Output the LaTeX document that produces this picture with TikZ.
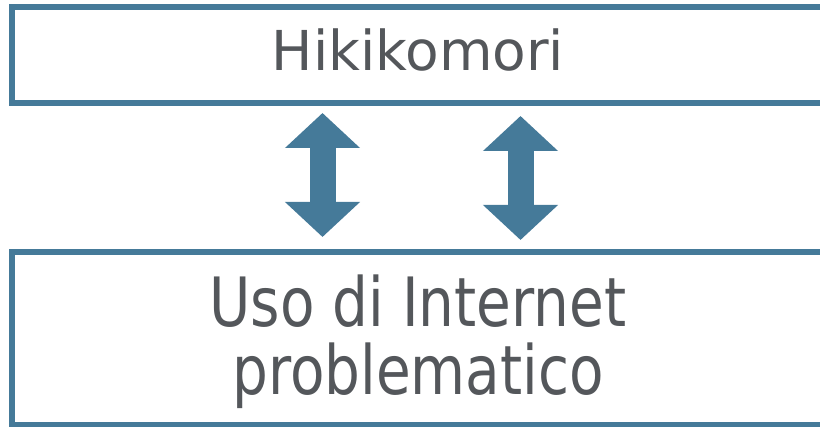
\documentclass[tikz,border=0pt]{standalone}
\usepackage{fontspec}
\setmainfont{DejaVu Sans}
\newfontfamily\narrowfont[FakeStretch=0.83]{DejaVu Sans}
\usetikzlibrary{arrows.meta}
\definecolor{boxblue}{HTML}{457A99}
\definecolor{txtgray}{HTML}{54575B}
\tikzset{
  box/.style={draw=boxblue,line width=6pt,minimum width=812pt,inner sep=0pt},
  lbl/.style={anchor=base,text=txtgray,inner sep=0pt},
  dbl/.style={boxblue,line width=26pt,{Triangle[width=73pt,length=35pt]}-{Triangle[width=73pt,length=35pt]}}
}

\begin{document}
\begin{tikzpicture}[x=1pt,y=-1pt]
\useasboundingbox (0,0) rectangle (820,427);
\node[box,minimum height=96pt] (top) at (418,55) {};
\node[box,minimum height=173pt] (bot) at (418,338.5) {};
\node[lbl,font=\fontsize{55}{55}\selectfont] (hiki) at (418,71) {Hikikomori};
\node[lbl,align=center,font=\narrowfont\fontsize{68}{68}\selectfont] (uso) at (418,395) {Uso di Internet\\problematico};
% double arrows between the two boxes
\coordinate (a1t) at (322.5,113);
\coordinate (a1b) at (322.5,237);
\coordinate (a2t) at (520.5,116);
\coordinate (a2b) at (520.5,240);
\draw[dbl] (a1t) -- (a1b);
\draw[dbl] (a2t) -- (a2b);
\end{tikzpicture}
\end{document}
